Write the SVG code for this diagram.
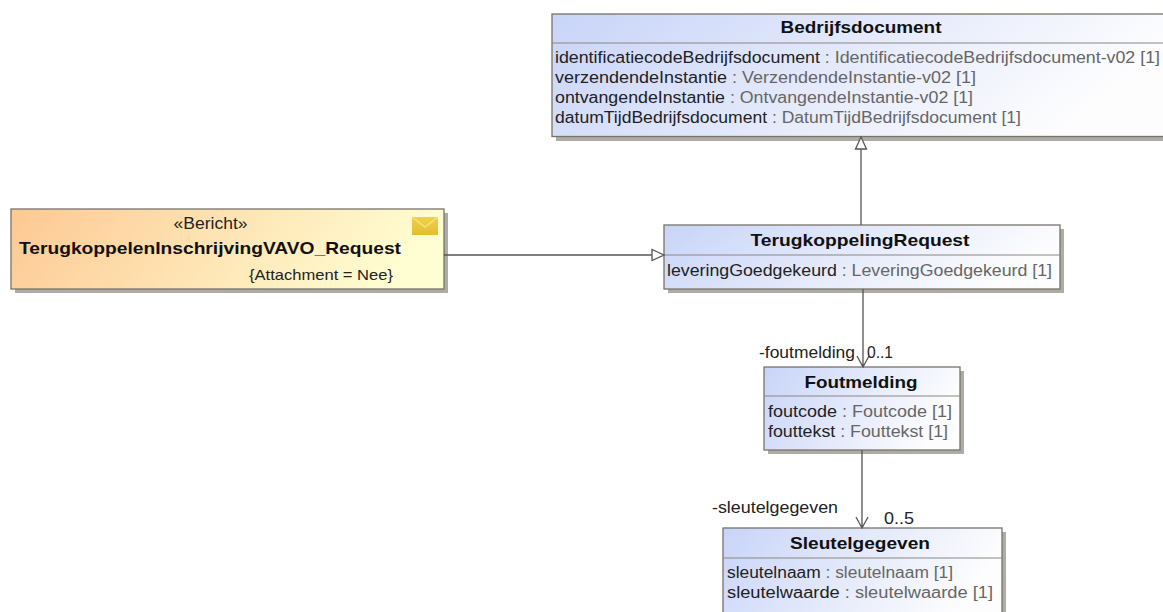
<svg xmlns="http://www.w3.org/2000/svg" width="1163" height="612" viewBox="0 0 1163 612">
<style>
text{font-family:"Liberation Sans",Arial,sans-serif;font-size:16px;fill:#222}
.t{font-weight:bold;font-size:17px;fill:#111;text-anchor:middle}
.g{fill:#666}
.b{fill:url(#blue);stroke:#77736b;stroke-width:1.3}
.o{fill:url(#orange);stroke:#77736b;stroke-width:1.3}
.s{fill:#aeaca6}
.d{stroke:#8a8780;stroke-width:1;fill:none}
.c{stroke:#555;stroke-width:1.3;fill:none}
.w{fill:#fff}
</style>
<defs>
<linearGradient id="blue" x1="0" y1="0" x2="1" y2="0.25"><stop offset="0" stop-color="#c8d4f8"/><stop offset="1" stop-color="#fdfdfe"/></linearGradient>
<linearGradient id="orange" x1="0" y1="0" x2="1" y2="0.15"><stop offset="0" stop-color="#fdc893"/><stop offset="1" stop-color="#fffed2"/></linearGradient>
<linearGradient id="env" x1="0" y1="0" x2="0" y2="1"><stop offset="0" stop-color="#f0d050"/><stop offset="1" stop-color="#e4bc30"/></linearGradient>
</defs>
<rect width="1163" height="612" fill="#fff"/>
<g id="bedrijfsdocument">
<rect class="s" x="556" y="18" width="612" height="123"/>
<rect class="b" x="552" y="14" width="612" height="122.500"/>
<line class="d" x1="552" y1="43" x2="1164" y2="43"/>
<text class="t" x="861" y="33" textLength="161" lengthAdjust="spacingAndGlyphs">Bedrijfsdocument</text>
<text x="555" y="63" textLength="605" lengthAdjust="spacingAndGlyphs">identificatiecodeBedrijfsdocument<tspan class="g"> : IdentificatiecodeBedrijfsdocument-v02 [1]</tspan></text>
<text x="555" y="83" textLength="421" lengthAdjust="spacingAndGlyphs">verzendendeInstantie<tspan class="g"> : VerzendendeInstantie-v02 [1]</tspan></text>
<text x="555" y="103" textLength="418" lengthAdjust="spacingAndGlyphs">ontvangendeInstantie<tspan class="g"> : OntvangendeInstantie-v02 [1]</tspan></text>
<text x="555" y="123" textLength="466" lengthAdjust="spacingAndGlyphs">datumTijdBedrijfsdocument<tspan class="g"> : DatumTijdBedrijfsdocument [1]</tspan></text>
</g>
<g id="bericht">
<rect class="s" x="15" y="213" width="433" height="80"/>
<rect class="o" x="11" y="209" width="433" height="80"/>
<rect x="412" y="217" width="26" height="18" fill="url(#env)"/>
<path d="M412 217L425 227L438 217" fill="none" stroke="#f8e27c" stroke-width="1.500"/>
<text x="210.500" y="229" text-anchor="middle" textLength="74" lengthAdjust="spacingAndGlyphs">«Bericht»</text>
<text class="t" x="19" y="254" style="text-anchor:start" textLength="382" lengthAdjust="spacingAndGlyphs">TerugkoppelenInschrijvingVAVO_Request</text>
<text x="249" y="280" style="font-size:15px" textLength="144" lengthAdjust="spacingAndGlyphs">{Attachment = Nee}</text>
</g>
<g id="terugkoppelingrequest">
<rect class="s" x="668" y="229" width="396" height="64"/>
<rect class="b" x="664" y="225" width="396" height="64"/>
<line class="d" x1="664" y1="255" x2="1060" y2="255"/>
<text class="t" x="860" y="246" textLength="219" lengthAdjust="spacingAndGlyphs">TerugkoppelingRequest</text>
<text x="667" y="276" textLength="385" lengthAdjust="spacingAndGlyphs">leveringGoedgekeurd<tspan class="g"> : LeveringGoedgekeurd [1]</tspan></text>
</g>
<g id="foutmelding">
<rect class="s" x="768" y="371" width="196" height="83"/>
<rect class="b" x="764" y="367" width="196" height="83"/>
<line class="d" x1="764" y1="396" x2="960" y2="396"/>
<text class="t" x="861" y="388" textLength="113" lengthAdjust="spacingAndGlyphs">Foutmelding</text>
<text x="768" y="417" textLength="184" lengthAdjust="spacingAndGlyphs">foutcode<tspan class="g"> : Foutcode [1]</tspan></text>
<text x="768" y="437" textLength="180" lengthAdjust="spacingAndGlyphs">fouttekst<tspan class="g"> : Fouttekst [1]</tspan></text>
</g>
<g id="sleutelgegeven">
<rect class="s" x="727" y="532" width="279" height="90"/>
<rect class="b" x="723" y="528" width="279" height="90"/>
<line class="d" x1="723" y1="558" x2="1002" y2="558"/>
<text class="t" x="860" y="549" textLength="140" lengthAdjust="spacingAndGlyphs">Sleutelgegeven</text>
<text x="727" y="578" textLength="226" lengthAdjust="spacingAndGlyphs">sleutelnaam<tspan class="g"> : sleutelnaam [1]</tspan></text>
<text x="727" y="598" textLength="266" lengthAdjust="spacingAndGlyphs">sleutelwaarde<tspan class="g"> : sleutelwaarde [1]</tspan></text>
</g>
<g id="connectors">
<path class="c" d="M861 225V149"/>
<path class="c w" d="M861 137L855.500 149H866.500Z"/>
<path class="c" d="M444 255H652"/>
<path class="c w" d="M664 255L652 249.500V260.500Z"/>
<path class="c" d="M863 289V367M857 356L863 367L869 356"/>
<path class="c" d="M862 450V528M856 517L862 528L868 517"/>
</g>
<g id="labels">
<text x="759" y="358" textLength="96" lengthAdjust="spacingAndGlyphs">-foutmelding</text>
<text x="867" y="358" textLength="26" lengthAdjust="spacingAndGlyphs">0..1</text>
<text x="712" y="513" textLength="126" lengthAdjust="spacingAndGlyphs">-sleutelgegeven</text>
<text x="884" y="524" textLength="30" lengthAdjust="spacingAndGlyphs">0..5</text>
</g>
</svg>
